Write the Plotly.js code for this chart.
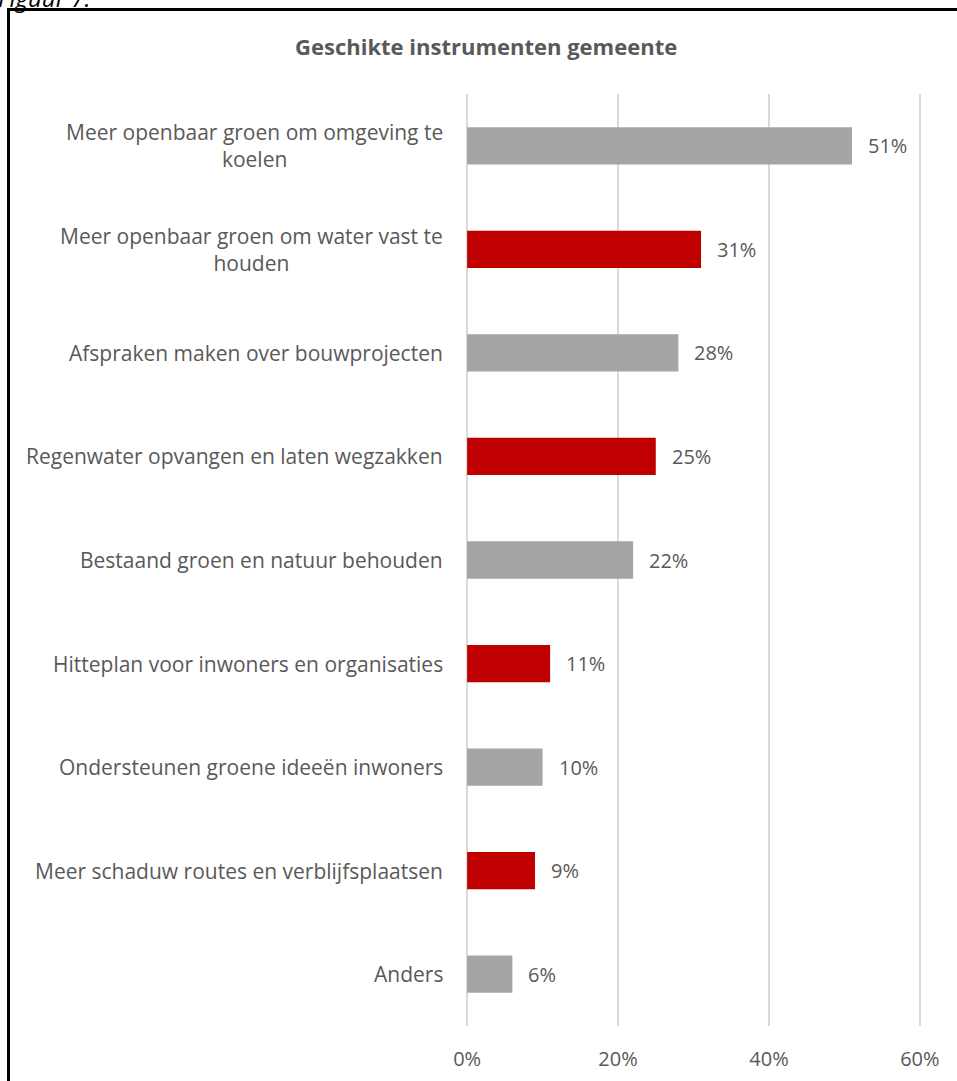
<!DOCTYPE html>
<html>
<head>
<meta charset="utf-8">
<script src="https://cdn.plot.ly/plotly-3.0.1.min.js"></script>
<style>
  html, body { margin: 0; padding: 0; background: #fff; overflow: hidden; }
  #chart { position: absolute; left: 0; top: 0; width: 957px; height: 1081px; }
  #frame { position: absolute; left: 7px; top: 8px; width: 1000px; height: 1200px;
           border-left: 3px solid #000; border-top: 3px solid #000; pointer-events: none; }
  #fig { position: absolute; left: -2px; top: -19px; font-family: 'Open Sans', sans-serif;
         font-style: italic; font-size: 24px; color: #000; }
</style>
</head>
<body>
<div id="chart"></div>
<div id="frame"></div>
<div id="fig">Figuur 7.</div>
<script>
const categories = [
  "Meer openbaar groen om omgeving te<br>koelen",
  "Meer openbaar groen om water vast te<br>houden",
  "Afspraken maken over bouwprojecten",
  "Regenwater opvangen en laten wegzakken",
  "Bestaand groen en natuur behouden",
  "Hitteplan voor inwoners en organisaties",
  "Ondersteunen groene ideeën inwoners",
  "Meer schaduw routes en verblijfsplaatsen",
  "Anders"
];
const values = [51, 31, 28, 25, 22, 11, 10, 9, 6];
const barColors = ["#A5A5A5", "#C00000", "#A5A5A5", "#C00000", "#A5A5A5", "#C00000", "#A5A5A5", "#C00000", "#A5A5A5"];
const tickValues = [0, 20, 40, 60];
const tickLabels = ["0%", "20%", "40%", "60%"];

const textColor = "#595959";
const font = "'Open Sans', sans-serif";

const trace = {
  type: "bar",
  orientation: "h",
  x: values,
  y: categories,
  marker: { color: barColors },
  width: 0.36,
  hoverinfo: "none"
};

const annotations = [];
categories.forEach((c, i) => {
  annotations.push({
    x: 0, y: c, xref: "x", yref: "y",
    text: c, showarrow: false, xanchor: "right", yanchor: "middle",
    align: "center", xshift: -22,
    font: { family: font, size: 21, color: textColor }
  });
  annotations.push({
    x: values[i], y: c, xref: "x", yref: "y",
    text: values[i] + "%", showarrow: false, xanchor: "left", yanchor: "middle",
    xshift: 14,
    font: { family: font, size: 20, color: textColor }
  });
});

const layout = {
  width: 957, height: 1081,
  margin: { l: 466, r: 36, t: 94, b: 55 },
  paper_bgcolor: "#fff",
  plot_bgcolor: "#fff",
  showlegend: false,
  title: {
    text: "<b>Geschikte instrumenten gemeente</b>",
    x: 0.508, xref: "container", xanchor: "center",
    y: 0.9565, yref: "container", yanchor: "middle",
    font: { family: font, size: 22, color: textColor }
  },
  xaxis: {
    range: [-0.15, 60.15],
    tickvals: tickValues,
    ticktext: tickLabels,
    showgrid: true,
    gridcolor: "#D9D9D9",
    gridwidth: 2,
    zeroline: false,
    showline: false,
    ticks: "outside",
    ticklen: 15,
    tickcolor: "rgba(0,0,0,0)",
    tickfont: { family: font, size: 20, color: textColor },
    fixedrange: true
  },
  yaxis: {
    autorange: "reversed",
    showticklabels: false,
    showgrid: false,
    zeroline: false,
    showline: false,
    ticks: "",
    fixedrange: true
  },
  annotations: annotations
};

Plotly.newPlot("chart", [trace], layout, { displayModeBar: false, staticPlot: true });
</script>
</body>
</html>
